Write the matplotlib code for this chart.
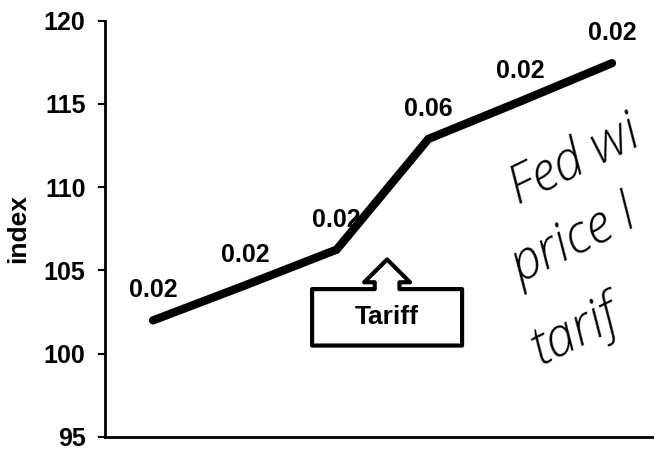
import matplotlib.pyplot as plt
from matplotlib.patches import Polygon

# index path with growth-rate labels
periods = [0, 1, 2, 3, 4, 5]
index_values = [102.0, 104.1, 106.25, 112.9, 115.15, 117.45]
growth_labels = ["0.02", "0.02", "0.02", "0.06", "0.02", "0.02"]
y_ticks = [95, 100, 105, 110, 115, 120]

plt.rcParams['font.family'] = ['Liberation Sans', 'DejaVu Sans']

fig = plt.figure(figsize=(6.54, 4.5), dpi=100)
ax = fig.add_axes([0.1606, 0.0290, 0.8394, 0.925])

# labels first so the line is drawn over them
for x, y, lab in zip(periods, index_values, growth_labels):
    ax.annotate(lab, (x, y), xytext=(0, 13), textcoords='offset points',
                ha='center', va='bottom', fontsize=18, fontweight='bold', zorder=2)

ax.plot(periods, index_values, color='black', linewidth=6,
        solid_capstyle='round', solid_joinstyle='miter', zorder=3)

ax.set_xlim(-0.523, 5.458)
ax.set_ylim(95, 120)
ax.set_yticks(y_ticks)
ax.set_yticklabels([str(t) for t in y_ticks], fontsize=18, fontweight='bold')
ax.set_xticks([])
ax.set_ylabel("index", fontsize=19, fontweight='bold', labelpad=10)

for side in ['top', 'right']:
    ax.spines[side].set_visible(False)
for side in ['left', 'bottom']:
    ax.spines[side].set_linewidth(2)
ax.tick_params(axis='y', direction='out', length=5, width=1.5, pad=9)


def up_callout(ax, cx, box_w, y_bot, y_top, tip_y, head_y, head_w, shaft_w):
    """
    Box with an arrow on top pointing up (like an office callout shape).
    """
    x0, x1 = cx - box_w / 2, cx + box_w / 2
    pts = [(x0, y_bot), (x1, y_bot), (x1, y_top),
           (cx + shaft_w / 2, y_top), (cx + shaft_w / 2, head_y),
           (cx + head_w / 2, head_y), (cx, tip_y),
           (cx - head_w / 2, head_y), (cx - shaft_w / 2, head_y),
           (cx - shaft_w / 2, y_top), (x0, y_top)]
    ax.add_patch(Polygon(pts, closed=True, facecolor='white', edgecolor='black',
                         linewidth=3, joinstyle='round', zorder=4))


up_callout(ax, 2.55, 1.634, 100.49, 103.88, 105.66, 104.29, 0.50, 0.27)
ax.text(2.55, 102.2, "Tariff", ha='center', va='center', fontsize=19,
        fontweight='bold', zorder=5)

# handwritten note, cut off by the right edge
hand = dict(family=['Open Sans', 'DejaVu Sans'], fontweight='light', fontstyle='italic',
            fontsize=38, rotation=26, rotation_mode='anchor', ha='left',
            va='baseline', color='black')
fig.text(518 / 654, 1 - 205 / 450, "Fed wi", **hand)
fig.text(520 / 654, 1 - 283 / 450, "price l", **hand)
fig.text(540 / 654, 1 - 365 / 450, "tarif", **hand)

fig.savefig("out.png", dpi=100)
